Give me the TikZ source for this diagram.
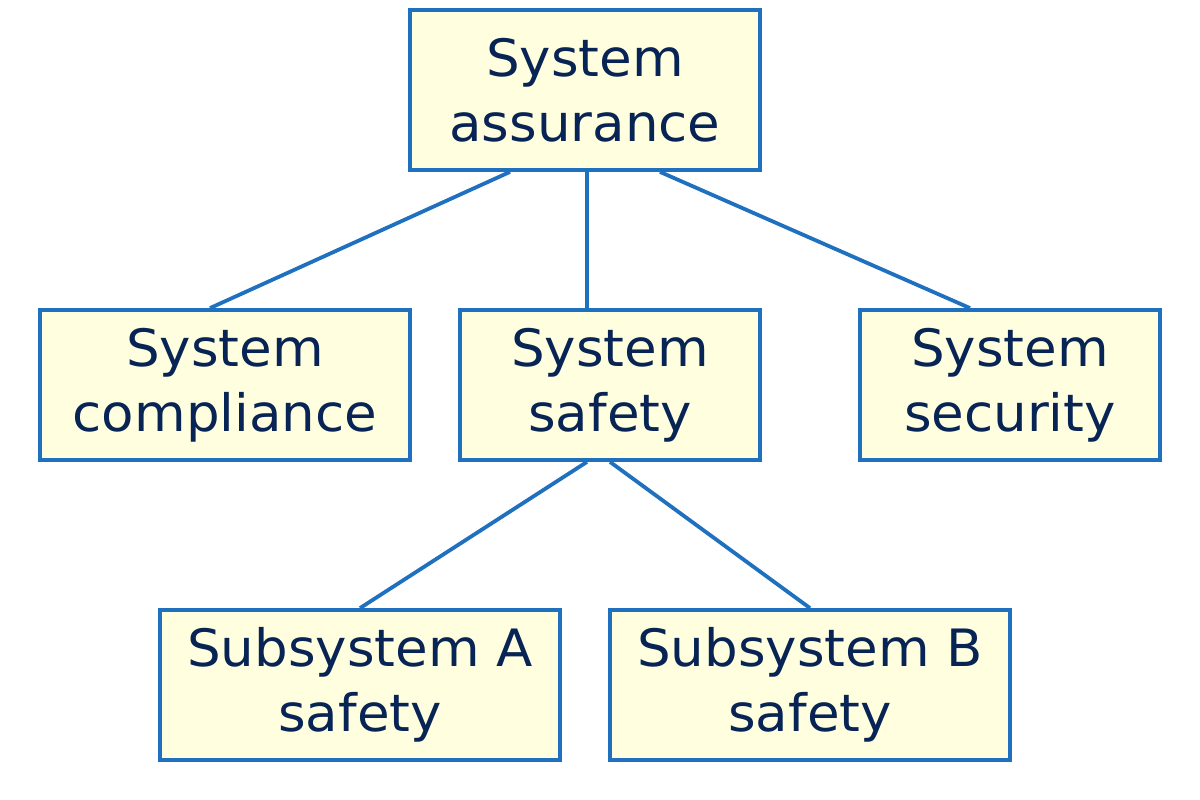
\documentclass[tikz,border=0pt]{standalone}
\usepackage{fontspec}
\setmainfont{DejaVu Sans}[FakeStretch=1.03]
\definecolor{boxfill}{HTML}{FFFFE0}
\definecolor{boxline}{HTML}{1F70BF}
\definecolor{txt}{HTML}{082455}
\begin{document}
\begin{tikzpicture}[x=1pt,y=-1pt,
  box/.style={draw=boxline, fill=boxfill, line width=3.8pt, inner sep=0pt,
    text=txt, align=center, font=\fontsize{51.5}{65}\selectfont},
  link/.style={draw=boxline, line width=3.8pt}]
\useasboundingbox (0,0) rectangle (1200,800);
\node[box, minimum width=350pt, minimum height=160pt] (top) at (585,90) {System\\assurance};
\node[box, minimum width=370pt, minimum height=150pt] (comp) at (225,385) {System\\compliance};
\node[box, minimum width=300pt, minimum height=150pt] (safe) at (610,385) {System\\safety};
\node[box, minimum width=300pt, minimum height=150pt] (sec) at (1010,385) {System\\security};
\node[box, minimum width=400pt, minimum height=150pt] (suba) at (360,685) {Subsystem A\\safety};
\node[box, minimum width=400pt, minimum height=150pt] (subb) at (810,685) {Subsystem B\\safety};
\draw[link] ([xshift=-75pt]top.south) -- ([xshift=-15pt]comp.north);
\draw[link] ([xshift=2pt]top.south) -- ([xshift=-23pt]safe.north);
\draw[link] ([xshift=75pt]top.south) -- ([xshift=-40pt]sec.north);
\draw[link] ([xshift=-23pt]safe.south) -- (suba.north);
\draw[link] (safe.south) -- (subb.north);
\end{tikzpicture}
\end{document}
